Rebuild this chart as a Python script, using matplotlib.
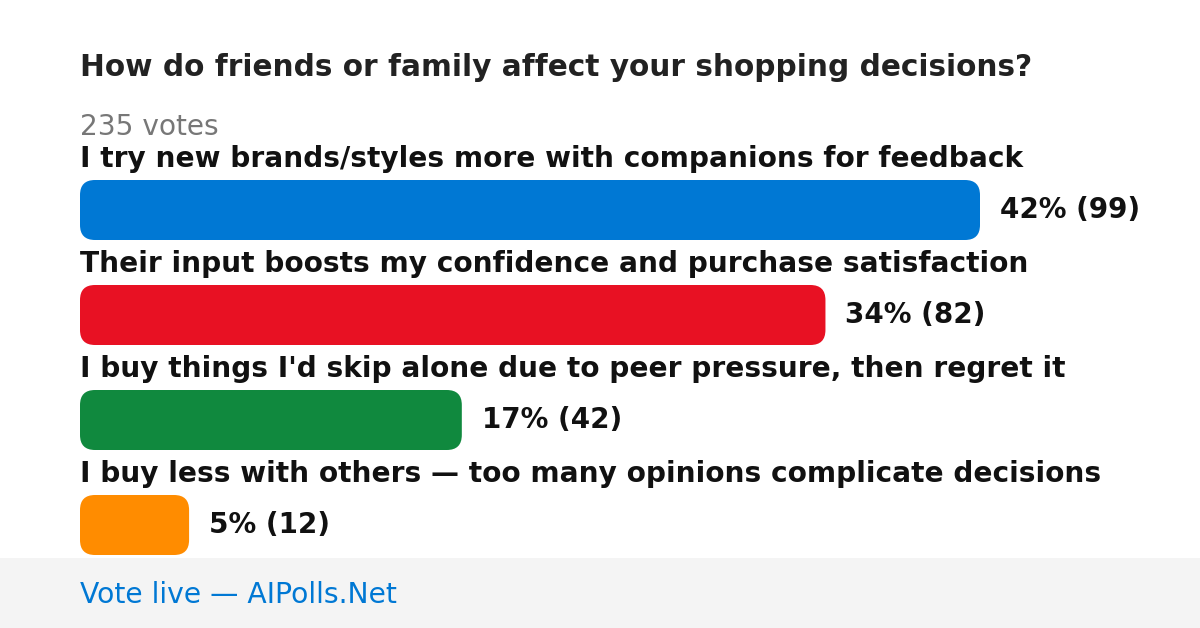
import matplotlib
matplotlib.use("Agg")
import matplotlib.pyplot as plt
from matplotlib.patches import FancyBboxPatch, Rectangle

plt.rcParams['font.family'] = ['DejaVu Sans']

title = "How do friends or family affect your shopping decisions?"
total_votes = 235
categories = [
    "I try new brands/styles more with companions for feedback",
    "Their input boosts my confidence and purchase satisfaction",
    "I buy things I'd skip alone due to peer pressure, then regret it",
    "I buy less with others \u2014 too many opinions complicate decisions",
]
percents = [42, 34, 17, 5]
votes = [99, 82, 42, 12]
colors = ["#0078d4", "#e81123", "#10893e", "#ff8c00"]
footer = "Vote live \u2014 AIPolls.Net"

W, H = 1200, 628
fig = plt.figure(figsize=(W / 100, H / 100), dpi=100)
ax = fig.add_axes([0, 0, 1, 1])
ax.set_xlim(0, W)
ax.set_ylim(H, 0)
ax.axis("off")

px = 1 / 100 * 72  # pixels -> points

left = 80
max_w = 900
vmax = max(votes)

ax.text(left, 68, title, fontsize=29.6 * px, fontweight="bold", color="#222222",
        va="center", ha="left")
ax.text(left, 127, f"{total_votes} votes", fontsize=28 * px, color="#777777",
        va="center", ha="left")

top0 = 180
step = 105
bar_h = 60
for i, (cat, pct, v, c) in enumerate(zip(categories, percents, votes, colors)):
    top = top0 + i * step
    ax.text(left, top - 21, cat, fontsize=28 * px, fontweight="bold", color="#111111",
            va="center", ha="left")
    w = v / vmax * max_w
    ax.add_patch(FancyBboxPatch((left, top), w, bar_h,
                                boxstyle="round,pad=0,rounding_size=15",
                                facecolor=c, edgecolor="none"))
    ax.text(left + w + 20, top + bar_h / 2, f"{pct}% ({v})", fontsize=27.7 * px,
            fontweight="bold", color="#111111", va="center", ha="left")

ax.add_patch(Rectangle((0, 558), W, H - 558, facecolor="#f4f4f4", edgecolor="none"))
ax.text(left, 595, footer, fontsize=28.3 * px, color="#0078d4", va="center", ha="left")

fig.savefig("out.png", dpi=100, facecolor="white")
